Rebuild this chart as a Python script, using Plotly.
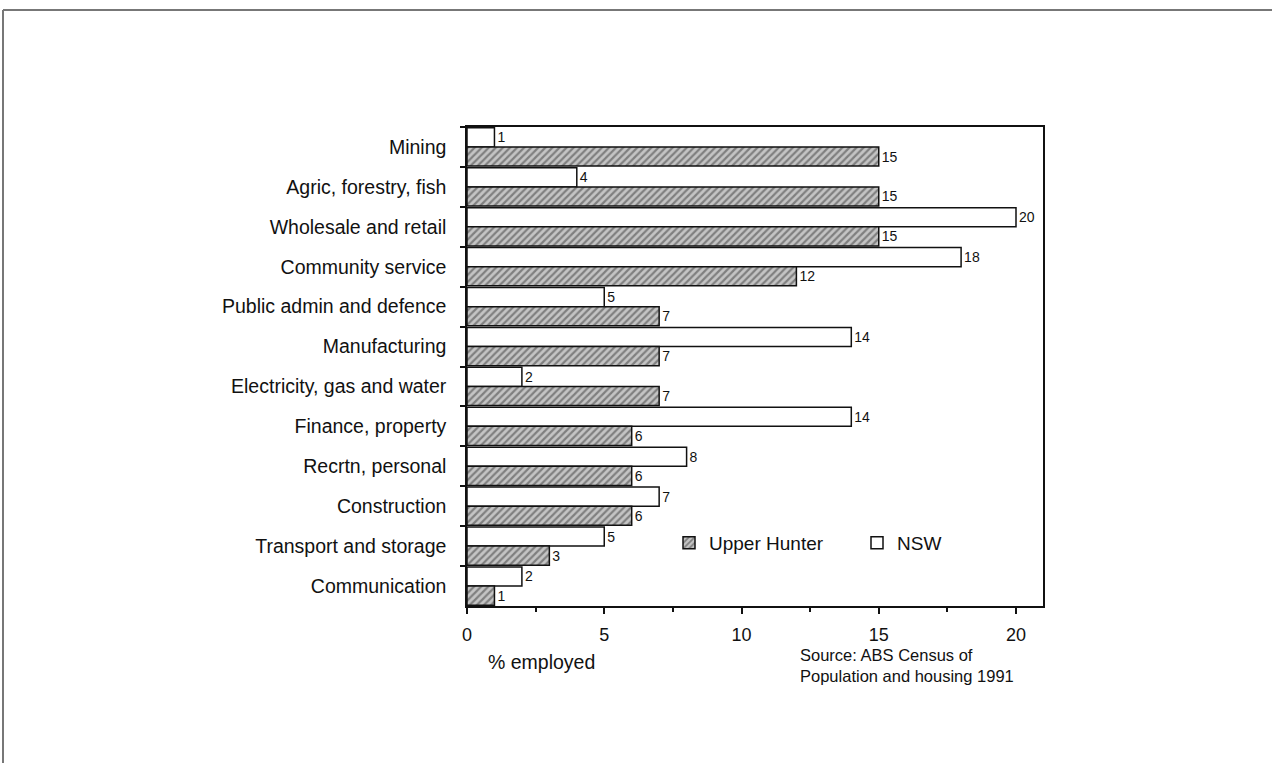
import plotly.graph_objects as go

categories = ["Mining", "Agric, forestry, fish", "Wholesale and retail", "Community service",
              "Public admin and defence", "Manufacturing", "Electricity, gas and water",
              "Finance, property", "Recrtn, personal", "Construction",
              "Transport and storage", "Communication"]
nsw = [1, 4, 20, 18, 5, 14, 2, 14, 8, 7, 5, 2]
upper_hunter = [15, 15, 15, 12, 7, 7, 7, 6, 6, 6, 3, 1]

W, H = 1272, 763
L, R, T, B = 467, 1043, 127, 606
FONT = "Liberation Sans, Arial, sans-serif"

fig = go.Figure()
fig.add_trace(go.Bar(
    y=categories, x=nsw, name="NSW", orientation="h",
    marker=dict(color="white", line=dict(color="#111", width=1.5)),
    text=nsw, textposition="outside", cliponaxis=False,
    textfont=dict(size=14, color="#111", family=FONT),
))
fig.add_trace(go.Bar(
    y=categories, x=upper_hunter, name="Upper Hunter", orientation="h",
    marker=dict(color="#b8b8b8", line=dict(color="#111", width=1.5),
                pattern=dict(shape="/", fgcolor="#3a3a3a", bgcolor="#c4c4c4", size=5, solidity=0.45)),
    text=upper_hunter, textposition="outside", cliponaxis=False,
    textfont=dict(size=14, color="#111", family=FONT),
))

def px(x):
    return (x - L) / (R - L)

def py(y):
    return (B - y) / (B - T)

fig.update_layout(
    width=W, height=H,
    margin=dict(l=L, r=W - R, t=T, b=H - B, pad=0),
    paper_bgcolor="white", plot_bgcolor="white",
    barmode="group", bargap=0.04, bargroupgap=0,
    font=dict(family=FONT, color="#111"),
    showlegend=True,
    legend=dict(orientation="h", traceorder="reversed", x=px(669), y=py(543),
                xanchor="left", yanchor="middle", font=dict(size=19, family=FONT),
                bgcolor="rgba(0,0,0,0)", itemwidth=30, entrywidthmode="pixels", entrywidth=143),
    xaxis=dict(range=[0, (R - L) / 27.45], tickvals=[0, 5, 10, 15, 20], ticks="outside",
               ticklen=6, tickwidth=1.5, tickcolor="#111", showline=True, linecolor="#111",
               linewidth=1.5, mirror=True, showgrid=False, zeroline=False,
               tickfont=dict(size=18, family=FONT), ticklabelstandoff=6,
               minor=dict(tickvals=[2.5, 7.5, 12.5, 17.5], ticks="outside", ticklen=4,
                          tickcolor="#111", tickwidth=1.5)),
    yaxis=dict(autorange="reversed", ticks="outside", tickson="boundaries", ticklen=5,
               tickwidth=1.5, tickcolor="#111", showline=True, linecolor="#111",
               linewidth=1.5, mirror=True, showgrid=False, zeroline=False,
               tickfont=dict(size=19.5, family=FONT), ticklabelstandoff=15),
    annotations=[
        dict(text="% employed", x=px(486), y=py(662), xref="paper", yref="paper",
             xanchor="left", yanchor="middle", showarrow=False, font=dict(size=19.5, family=FONT)),
        dict(text="Source: ABS Census of<br>Population and housing 1991", x=px(798), y=py(644),
             xref="paper", yref="paper", xanchor="left", yanchor="top", align="left",
             showarrow=False, font=dict(size=16.5, family=FONT)),
    ],
    shapes=[
        dict(type="line", xref="paper", yref="paper", x0=px(3), x1=px(3), y0=py(10), y1=py(763),
             line=dict(color="#777", width=2)),
        dict(type="line", xref="paper", yref="paper", x0=px(3), x1=px(1272), y0=py(10), y1=py(10),
             line=dict(color="#777", width=2)),
    ],
)

fig.write_html("out.html", config={"displayModeBar": False},
               post_script="document.body.style.margin='0';")
